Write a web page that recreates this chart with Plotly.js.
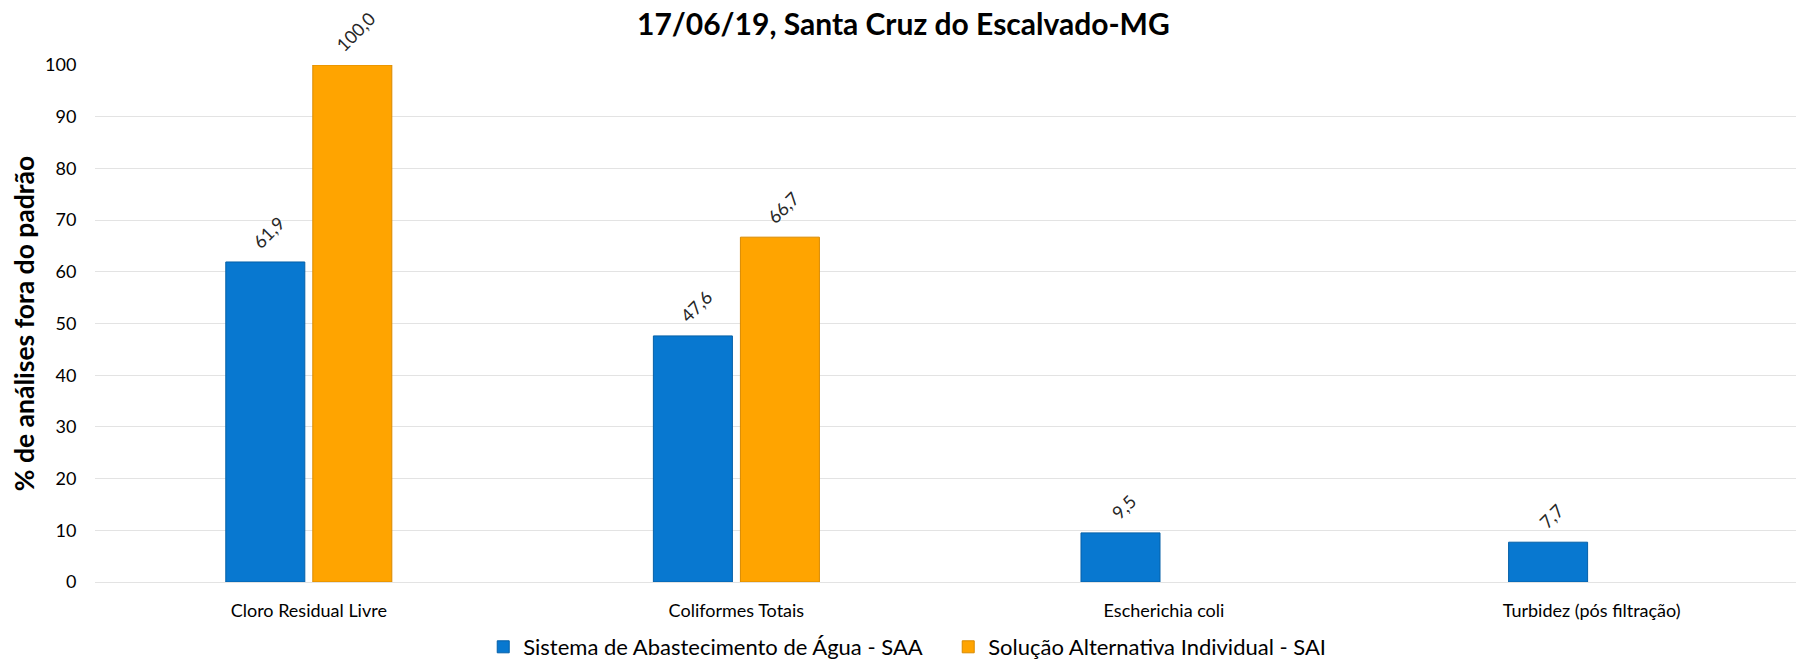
<!DOCTYPE html>
<html>
<head>
<meta charset="utf-8">
<script src="https://cdn.plot.ly/plotly-3.0.1.min.js"></script>
<style>html,body{margin:0;padding:0;background:#fff;}#chart{width:1796px;height:660px;}</style>
</head>
<body>
<div id="chart"></div>
<script>
const categories = ["Cloro Residual Livre", "Coliformes Totais", "Escherichia coli", "Turbidez (pós filtração)"];
const saaValues = [61.9, 47.6, 9.5, 7.7];
const saiValues = [100.0, 66.7, null, null];
const seriesNames = ["Sistema de Abastecimento de Água - SAA", "Solução Alternativa Individual - SAI"];
const yTicks = [0, 10, 20, 30, 40, 50, 60, 70, 80, 90, 100];

const FONT = "Lato, 'Open Sans', sans-serif";

const common = {
  type: "bar",
  x: categories,
  texttemplate: "\u00A0\u00A0%{y:.1f}",
  textposition: "outside",
  textangle: -45,
  cliponaxis: false,
  textfont: {family: FONT, size: 18, color: "#262626"},
  hoverinfo: "none"
};

const traces = [
  Object.assign({}, common, {
    name: seriesNames[0],
    y: saaValues,
    marker: {color: "#0878D0", line: {color: "#0560A8", width: 1}}
  }),
  Object.assign({}, common, {
    name: seriesNames[1],
    y: saiValues,
    marker: {color: "#FFA400", line: {color: "#D98A00", width: 1}}
  })
];

const layout = {
  width: 1796, height: 660,
  paper_bgcolor: "#fff", plot_bgcolor: "#fff",
  margin: {l: 95, r: 0, t: 65, b: 78},
  separators: ",.",
  barmode: "group",
  bargap: 0.593,
  bargroupgap: 0.092,
  font: {family: FONT, color: "#000"},
  title: {
    text: "<b>17/06/19, Santa Cruz do Escalvado-MG</b>",
    font: {family: FONT, size: 30, color: "#000"},
    x: 0.503, xref: "container", xanchor: "center",
    y: 1 - 24/660, yref: "container", yanchor: "middle"
  },
  xaxis: {
    range: [-0.5, 3.478],
    showgrid: false, showline: false, zeroline: false,
    ticks: "outside", ticklen: 12, tickcolor: "rgba(0,0,0,0)",
    tickfont: {family: FONT, size: 18, color: "#000"},
    fixedrange: true
  },
  yaxis: {
    range: [0, 100],
    tickvals: yTicks,
    ticktext: yTicks.map(String),
    showgrid: true, gridcolor: "#E3E3E3", gridwidth: 1,
    zeroline: true, zerolinecolor: "#E3E3E3", zerolinewidth: 1,
    showline: false,
    ticks: "outside", ticklen: 14, tickcolor: "rgba(0,0,0,0)",
    tickfont: {family: FONT, size: 18, color: "#000"},
    title: {
      text: "<b>% de análises fora do padrão</b>",
      font: {family: FONT, size: 26.5, color: "#000"},
      standoff: 2
    },
    fixedrange: true
  },
  showlegend: true,
  legend: {
    orientation: "h",
    x: 0.5016, xanchor: "center",
    yref: "container", y: 1 - 647/660, yanchor: "middle",
    font: {family: FONT, size: 22, color: "#000"},
    itemwidth: 30,
    entrywidth: 420,
    entrywidthmode: "pixels"
  }
};

Plotly.newPlot("chart", traces, layout, {displayModeBar: false, staticPlot: true});
</script>
</body>
</html>
